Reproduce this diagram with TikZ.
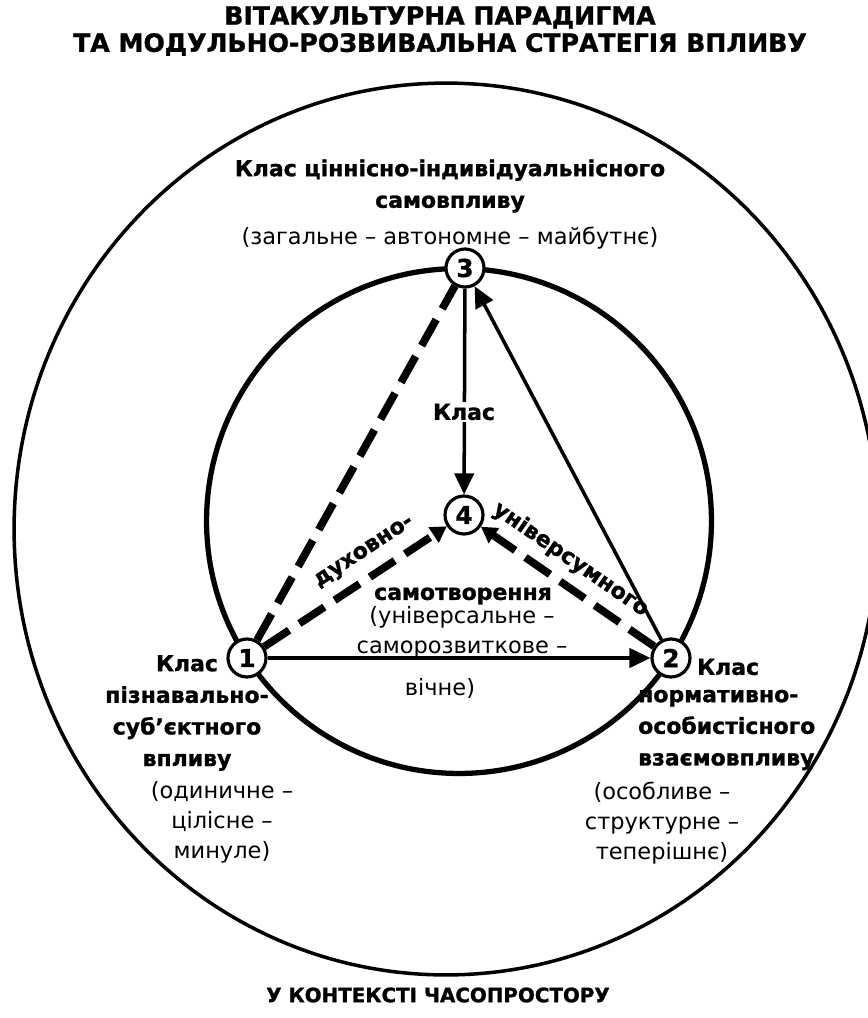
\documentclass[tikz,border=0pt]{standalone}
\usepackage{fontspec}
\setmainfont{DejaVu Sans}[BoldFeatures={FakeBold=1.2}]
\usetikzlibrary{arrows.meta}

\tikzset{
  num/.style={circle, draw, line width=1.8pt, fill=white, minimum size=0.76cm, inner sep=0pt, font=\bfseries\fontsize{14}{14}\selectfont},
  head/.style={align=center, font=\bfseries\fontsize{14.3}{15.5}\selectfont},
  cls/.style={align=center, font=\bfseries\fontsize{12.5}{18}\selectfont},
  note/.style={align=center, font=\fontsize{12.8}{17}\selectfont},
  flow/.style={line width=2pt, -{Triangle[length=12pt,width=11pt]}},
  thickdash/.style={line width=4.4pt, dash pattern=on 17pt off 7pt},
  dashflow/.style={thickdash, -{Triangle[length=9pt,width=10pt]}},
}

\begin{document}
\begin{tikzpicture}[x=0.02cm, y=-0.02cm]
			%%%%% START %%%%%
			\useasboundingbox (0,0) rectangle (868,1018);
			
			\begin{scope}
				\clip (0,0) rectangle (868,1018);
				\draw[line width=2pt] (446,529) ellipse [x radius=8.64cm, y radius=8.92cm];
			\end{scope}
			
			\node[head] (title) at (440,31) {ВІТАКУЛЬТУРНА ПАРАДИГМА\\ТА МОДУЛЬНО-РОЗВИВАЛЬНА СТРАТЕГІЯ ВПЛИВУ};
			\node[head, font=\bfseries\fontsize{11.3}{12}\selectfont] (context) at (438,995) {У КОНТЕКСТІ ЧАСОПРОСТОРУ};
			
			\draw[line width=3pt] (459,521) circle (5.05cm);
			
			\node[num] (n3) at (465,268) {3};
			\node[num] (n4) at (464,515) {4};
			\node[num] (n1) at (247,658) {1};
			\node[num] (n2) at (671,658) {2};
			
			\draw[thickdash] (n1) -- (n3);
			\draw[dashflow] (n1) -- node[sloped, above=3pt, pos=0.62, font=\bfseries\fontsize{12.5}{12}\selectfont] (spirit) {духовно-} (n4);
			\draw[dashflow] (n2) -- node[sloped, above=2pt, pos=0.56, font=\bfseries\fontsize{12.5}{12}\selectfont] (universe) {універсумного} (n4);
			\draw[flow] (n3) -- (n4);
			\draw[flow] (n1) -- (n2);
			\draw[flow] (n2) -- (n3);
			
			\node[cls, fill=white, inner sep=1pt] (cls4) at (464,412) {Клас};
			\node[cls] (self) at (463,596) {самотворення};
			\node[note] (uni) at (462,632) {(універсальне –\\саморозвиткове –};
			\node[note] (eternal) at (440,688) {вічне)};
			
			\node[cls] (cls3) at (450,186) {Клас ціннісно-індивідуальнісного\\самовпливу};
			\node[note] (note3) at (450,238) {(загальне – автономне – майбутнє)};
			
			\node[cls] (cls1) at (187,713) {Клас\\пізнавально-\\суб’єктного\\впливу};
			\node[note] (note1) at (222,822) {(одиничне –\\цілісне –\\минуле)};
			
			\node[cls, anchor=west] (cls2a) at (691,667) {Клас};
			\node[cls, anchor=west, align=left] (cls2) at (632,730) {нормативно-\\особистісного\\взаємовпливу};
			\node[note] (note2) at (662,823) {(особливе –\\структурне –\\теперішнє)};
			
			%%%%% END %%%%%
\end{tikzpicture}
\end{document}
